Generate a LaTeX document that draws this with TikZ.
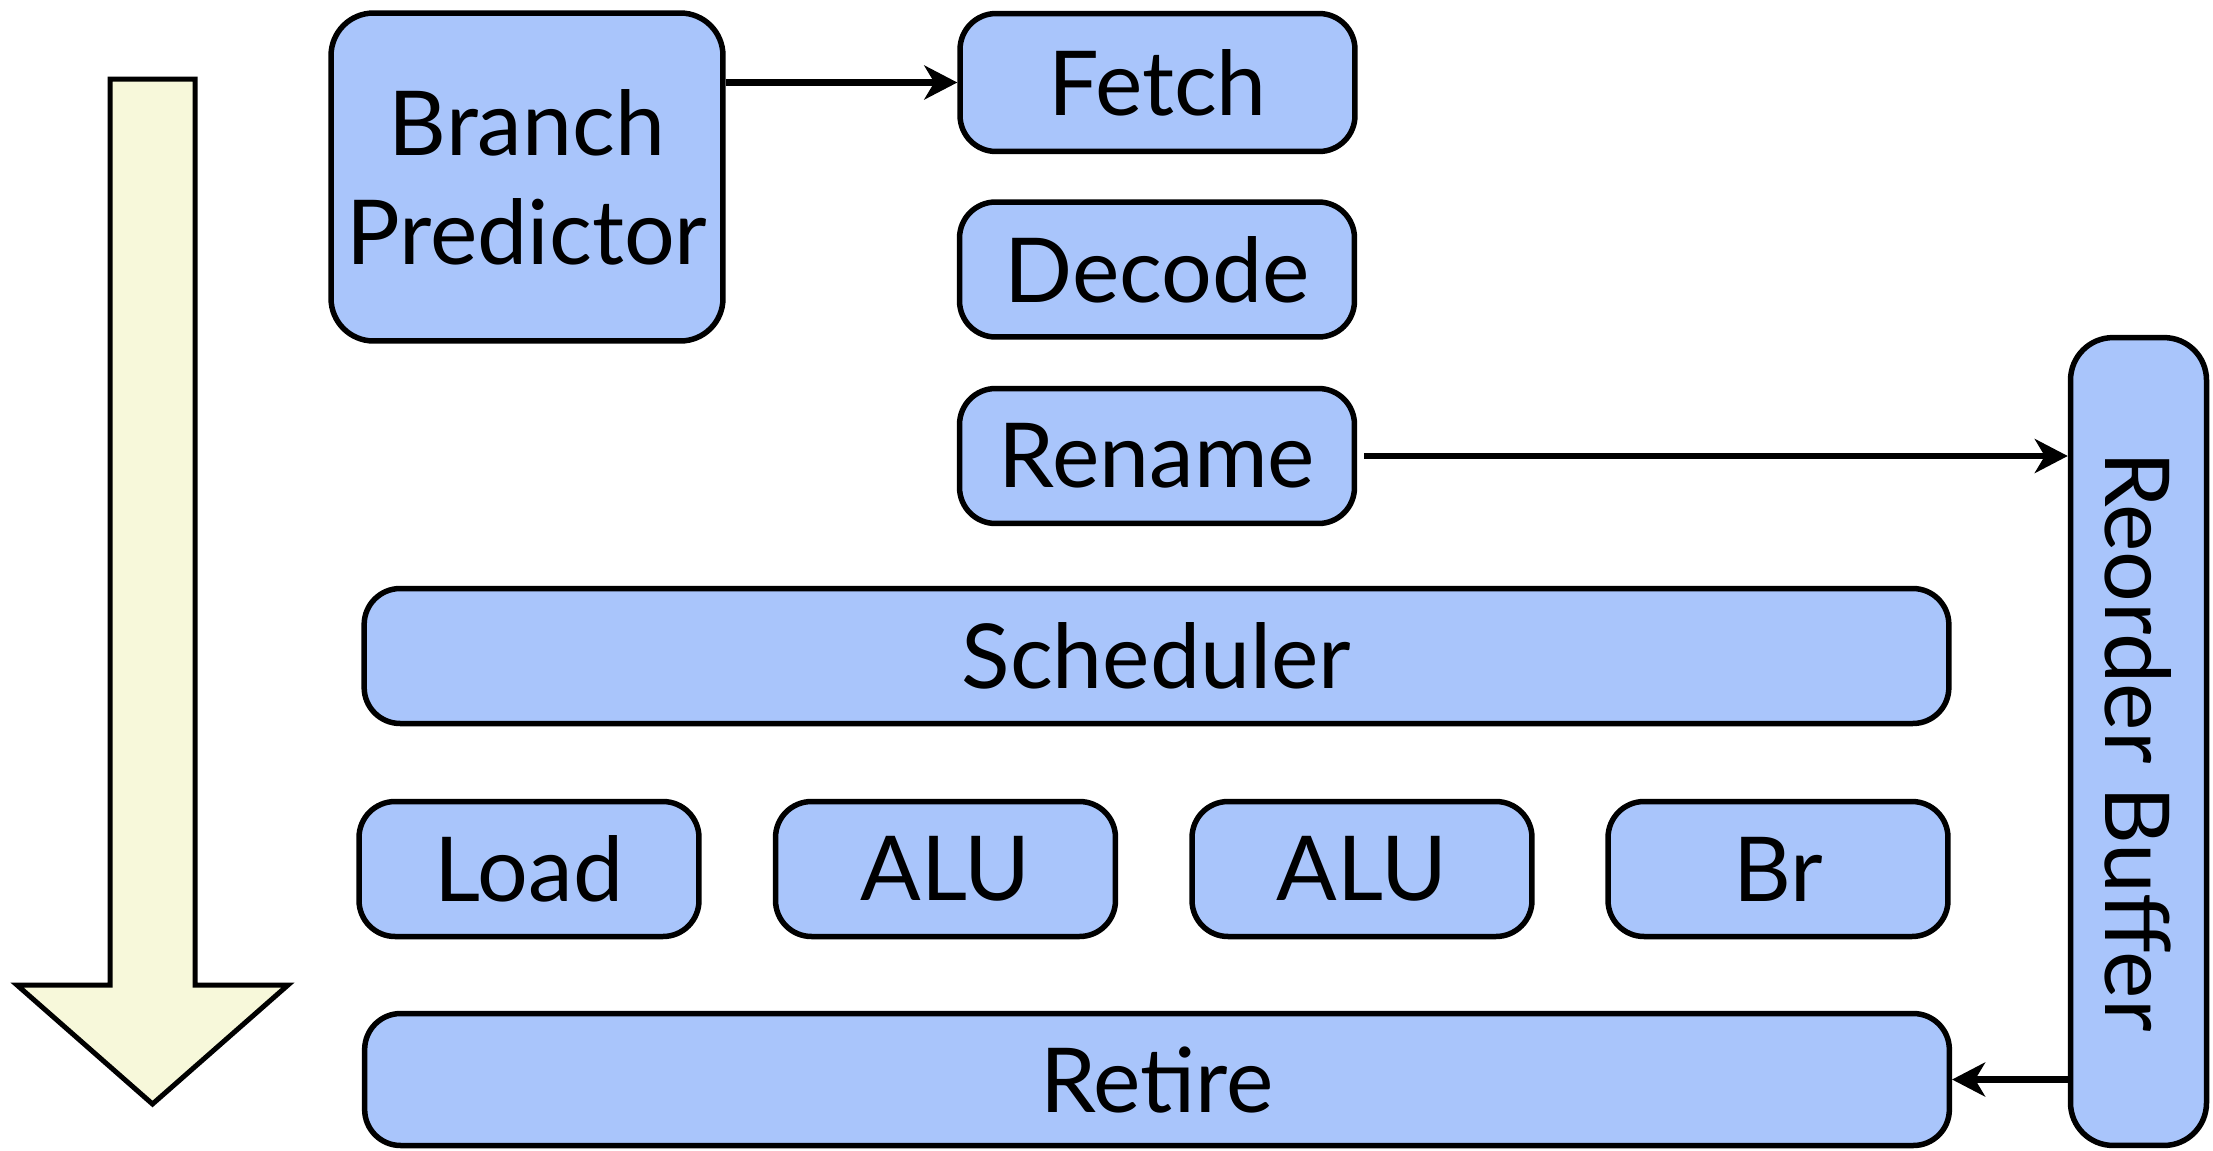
\documentclass[tikz,border=0pt]{standalone}
\usepackage{fontspec}
\setmainfont{Lato}
\usetikzlibrary{arrows.meta}
\definecolor{stagefill}{HTML}{A9C5FB}
\definecolor{flowfill}{HTML}{F7F8DA}
\tikzset{
  stagefont/.style={font=\fontsize{51}{62}\selectfont},
  stage/.style={draw=black, line width=0.11cm, fill=stagefill, rounded corners=0.72cm,
    inner sep=0pt, minimum height=2.7cm, align=center, stagefont},
  conn/.style={line width=0.13cm, -{Stealth[length=0.66cm, width=0.68cm, inset=0.2cm]}},
  flowarrow/.style={draw=black, line width=0.1cm, fill=flowfill, line join=miter}
}
\begin{document}
\begin{tikzpicture}[x=0.02cm, y=-0.02cm]
\useasboundingbox (0,0) rectangle (2213,1150);

% program-order arrow on the left
\draw[flowarrow] (110,79) -- (195,79) -- (195,985) -- (288,985) -- (152.5,1104)
  -- (17,985) -- (110,985) -- cycle;

% pipeline stages
\node[stage, minimum width=7.84cm, minimum height=6.56cm, rounded corners=0.85cm] (bp) at (527,177) {Branch\\Predictor};
\node[stage, minimum width=7.9cm, minimum height=2.76cm] (fetch) at (1157.5,82.5) {Fetch};
\node[stage, minimum width=7.9cm] (decode) at (1157,269.5) {Decode};
\node[stage, minimum width=7.9cm] (rename) at (1157,456) {Rename};
\node[stage, minimum width=31.7cm] (sched) at (1156.5,656) {Scheduler};
\node[stage, minimum width=6.8cm] (load) at (529,869) {Load};
\node[stage, minimum width=6.8cm] (alu1) at (945.5,869) {ALU};
\node[stage, minimum width=6.8cm] (alu2) at (1362,869) {ALU};
\node[stage, minimum width=6.8cm] (br) at (1778,869) {Br};
\node[stage, minimum width=31.7cm, minimum height=2.64cm] (retire) at (1157,1079.5) {Retire};
\node[stage, minimum width=2.72cm, minimum height=16.16cm, rounded corners=0.85cm] (rob) at (2138.5,741.5) {};
\node[stagefont, rotate=-90] (robtext) at (rob.center) {Reorder Buffer};

% connectors
\draw[conn] (bp.east |- fetch.west) -- (fetch.west);
\draw[conn, shorten <=0.14cm] (rename.east) -- (rename.east -| rob.west);
\draw[conn] (rob.west |- retire.east) -- (retire.east);
\end{tikzpicture}
\end{document}
